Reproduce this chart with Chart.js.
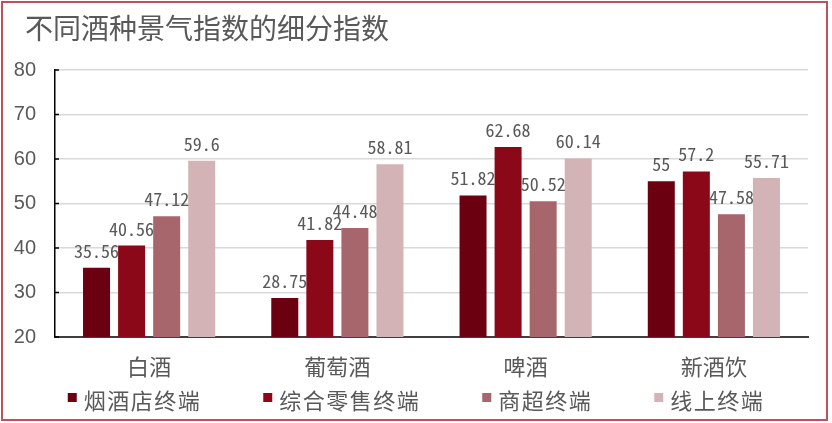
<!DOCTYPE html>
<html><head><meta charset="utf-8">
<script src="https://cdn.jsdelivr.net/npm/chart.js@4.4.1/dist/chart.umd.min.js"></script>
<style>html,body{margin:0;padding:0;background:#fff;}</style>
</head><body>
<canvas id="c" width="832" height="423"></canvas>
<script>
const titleText = '不同酒种景气指数的细分指数';
const categories = ['白酒', '葡萄酒', '啤酒', '新酒饮'];
const seriesNames = ['烟酒店终端', '综合零售终端', '商超终端', '线上终端'];
const tobaccoStore = [35.56, 28.75, 51.82, 55];
const generalRetail = [40.56, 41.82, 62.68, 57.2];
const supermarket = [47.12, 44.48, 50.52, 47.58];
const online = [59.6, 58.81, 60.14, 55.71];
const yTicks = [20, 30, 40, 50, 60, 70, 80];
const seriesColors = ['#6a0010', '#8a0818', '#a6666b', '#d3b3b6'];

const seriesValues = [tobaccoStore, generalRetail, supermarket, online];
const CJK = '"Noto Sans CJK SC", "Noto Sans", sans-serif';
const textColor = '#595959';

const decorPlugin = {
  id: 'decor',
  afterDatasetsDraw(chart) {
    const ctx = chart.ctx;
    // data labels
    ctx.save();
    ctx.font = '18px "Noto Sans Mono CJK SC", "Liberation Mono", monospace';
    ctx.fillStyle = textColor;
    ctx.textAlign = 'center';
    ctx.textBaseline = 'alphabetic';
    chart.data.datasets.forEach((ds, i) => {
      chart.getDatasetMeta(i).data.forEach((bar, j) => {
        ctx.fillText(String(ds.data[j]), bar.x, bar.y - 10);
      });
    });
    // small inward ticks on y axis
    const ys = chart.scales.y;
    ctx.strokeStyle = '#000';
    ctx.lineWidth = 1.5;
    yTicks.forEach(v => {
      const py = ys.getPixelForValue(v);
      ctx.beginPath();
      ctx.moveTo(chart.chartArea.left, py);
      ctx.lineTo(chart.chartArea.left + 4, py);
      ctx.stroke();
    });
    ctx.restore();
  },
  afterDraw(chart) {
    const ctx = chart.ctx;
    ctx.save();
    // title
    ctx.font = '28px ' + CJK;
    ctx.fillStyle = textColor;
    ctx.textAlign = 'left';
    ctx.textBaseline = 'middle';
    ctx.fillText(titleText, 25, 28);
    // legend
    ctx.font = '22px ' + CJK;
    ctx.letterSpacing = '1.5px';
    const box = 9, gapBox = 7, gapItem = 62;
    const widths = seriesNames.map(n => ctx.measureText(n).width);
    let total = widths.reduce((a, b) => a + b, 0) + seriesNames.length * (box + gapBox) + (seriesNames.length - 1) * gapItem;
    let x = (chart.width - total) / 2;
    const cy = 401;
    seriesNames.forEach((n, i) => {
      ctx.fillStyle = seriesColors[i];
      ctx.fillRect(x, cy - 8, box, box);
      x += box + gapBox;
      ctx.fillStyle = textColor;
      ctx.fillText(n, x, cy);
      x += widths[i] + gapItem;
    });
    ctx.letterSpacing = '0px';
    // border
    ctx.strokeStyle = '#bf5060';
    ctx.lineWidth = 2;
    ctx.strokeRect(2, 2, 825, 418);
    ctx.restore();
  }
};

new Chart(document.getElementById('c'), {
  type: 'bar',
  data: {
    labels: categories,
    datasets: seriesNames.map((n, i) => ({
      label: n,
      data: seriesValues[i],
      backgroundColor: seriesColors[i],
      borderWidth: 0,
      categoryPercentage: 0.745,
      barPercentage: 0.77
    }))
  },
  options: {
    responsive: false,
    devicePixelRatio: 1,
    animation: false,
    layout: { padding: { left: 0, right: 24, top: 70, bottom: 43 } },
    plugins: { legend: { display: false }, title: { display: false }, tooltip: { enabled: false } },
    scales: {
      x: {
        grid: { display: false, drawTicks: false },
        border: { display: true, color: '#3f3f3f', width: 2 },
        ticks: { color: textColor, font: { family: CJK, size: 22 }, padding: 16 },
        afterFit: s => { s.height = 43; }
      },
      y: {
        min: 20, max: 80,
        afterBuildTicks: s => { s.ticks = yTicks.map(v => ({ value: v })); },
        grid: { color: '#d9d9d9', lineWidth: 1.5, drawTicks: false },
        border: { display: true, color: '#000', width: 1.5 },
        ticks: { color: textColor, font: { family: '"Liberation Sans", Arial, sans-serif', size: 20 }, padding: 19 },
        afterFit: s => { s.width = 55; }
      }
    }
  },
  plugins: [decorPlugin]
});
</script>
</body></html>
